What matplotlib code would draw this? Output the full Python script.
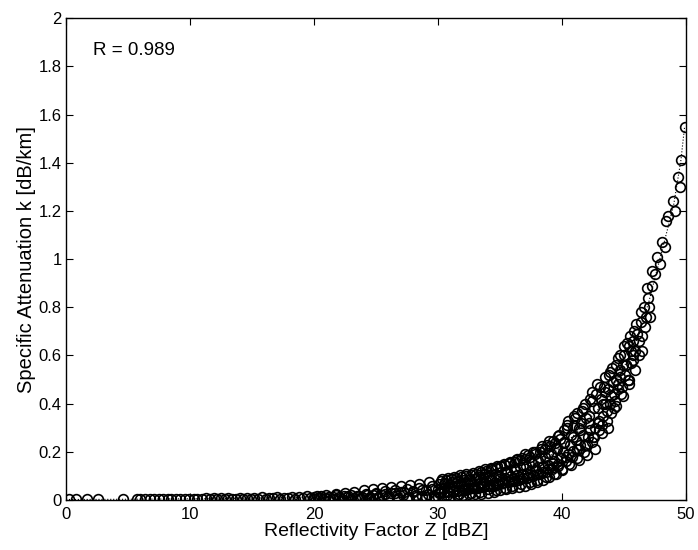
import numpy as np
import matplotlib
import matplotlib.pyplot as plt

matplotlib.use("agg")
plt.rcParams["font.family"] = ["Liberation Sans", "DejaVu Sans"]

# reflectivity factor Z [dBZ] and specific attenuation k [dB/km]
z_low = [0.2, 0.8, 1.7, 2.6, 4.6, 5.7, 6.0, 6.4, 6.8, 7.1, 7.5, 7.8, 8.2, 8.5, 8.9,
         9.2, 9.6, 9.9, 10.3, 10.6]
k_low = [0.003, 0.003, 0.003, 0.003, 0.003, 0.003, 0.004, 0.003, 0.004, 0.003, 0.004,
         0.005, 0.003, 0.004, 0.005, 0.004, 0.006, 0.004, 0.005, 0.006]

z_strip = [11.0, 11.3, 11.6, 11.9, 12.2, 12.5, 12.8, 13.1, 13.4, 13.7, 14.0, 14.3, 14.6,
           14.9, 15.2, 15.5, 15.8, 16.1, 16.4, 16.7, 17.0, 17.3, 17.6, 17.9, 18.2, 18.5,
           18.8, 19.1, 19.4, 19.7, 20.0, 20.3, 20.6, 20.9, 21.2, 21.5, 21.8, 22.1, 22.4,
           22.7, 23.0, 23.3, 23.6, 23.9, 24.2, 24.5, 24.8]
k_strip = [0.004, 0.007, 0.005, 0.008, 0.004, 0.007, 0.005, 0.009, 0.006, 0.004, 0.008,
           0.006, 0.010, 0.005, 0.008, 0.006, 0.011, 0.005, 0.009, 0.007, 0.012, 0.006,
           0.010, 0.008, 0.013, 0.006, 0.011, 0.009, 0.015, 0.007, 0.012, 0.010, 0.017,
           0.008, 0.014, 0.011, 0.019, 0.009, 0.016, 0.012, 0.022, 0.010, 0.018, 0.014,
           0.025, 0.011, 0.020]

z_mid = [25.0, 25.2, 25.5, 25.7, 26.0, 26.2, 26.5, 26.7, 27.0, 27.2, 27.5, 27.7, 28.0,
         28.2, 28.5, 28.7, 29.0, 29.2, 29.5, 29.7, 30.0, 30.2, 30.5, 30.7, 31.0, 31.2,
         31.5, 31.7, 32.0, 32.2, 32.5, 32.7]
k_mid = [0.030, 0.010, 0.022, 0.038, 0.012, 0.028, 0.040, 0.015, 0.032, 0.020, 0.045,
         0.012, 0.035, 0.022, 0.050, 0.015, 0.040, 0.027, 0.058, 0.018, 0.045, 0.030,
         0.065, 0.020, 0.052, 0.035, 0.075, 0.025, 0.060, 0.040, 0.085, 0.030]

z_rise = [33.0, 33.2, 33.4, 33.6, 33.8, 34.0, 34.2, 34.4, 34.5, 34.7, 34.9, 35.0,
          35.2, 35.4, 35.5, 35.7, 35.9, 36.0, 36.2, 36.4, 36.5, 36.7, 36.9, 37.0,
          37.2, 37.4, 37.5, 37.7, 37.9, 38.0, 38.2, 38.4, 38.5, 38.7, 38.9, 39.0,
          39.2, 39.4, 39.5, 39.7, 39.9, 40.0, 40.2, 40.4, 40.5, 40.7, 40.9, 41.0]
k_rise = [0.050, 0.095, 0.035, 0.070, 0.110, 0.045, 0.085, 0.125, 0.060, 0.040, 0.100,
          0.140, 0.070, 0.050, 0.115, 0.155, 0.085, 0.060, 0.130, 0.170, 0.095, 0.065,
          0.145, 0.190, 0.110, 0.075, 0.160, 0.200, 0.125, 0.085, 0.175, 0.225, 0.140,
          0.095, 0.195, 0.245, 0.155, 0.110, 0.215, 0.265, 0.175, 0.125, 0.235, 0.300,
          0.190, 0.145, 0.260, 0.350]

z_high = [41.2, 41.4, 41.5, 41.7, 41.9, 42.0, 42.2, 42.4, 42.5, 42.7, 42.9, 43.0,
          43.2, 43.4, 43.5, 43.7, 43.9, 44.0, 44.2, 44.4, 44.5, 44.7, 44.9, 45.0,
          45.2, 45.4, 45.5, 45.7, 45.9, 46.0, 46.2, 46.4, 46.5, 46.7, 46.9, 47.0,
          47.1, 47.3, 47.3, 47.5, 47.7, 47.9, 48.1, 48.3, 48.4, 48.6, 49.0, 49.1,
          49.4, 49.5, 49.6, 49.9]
k_high = [0.210, 0.165, 0.290, 0.380, 0.230, 0.185, 0.320, 0.450, 0.260, 0.210, 0.380,
          0.330, 0.280, 0.470, 0.400, 0.300, 0.530, 0.360, 0.440, 0.390, 0.590, 0.510,
          0.430, 0.640, 0.560, 0.480, 0.680, 0.600, 0.540, 0.730, 0.660, 0.780, 0.620,
          0.720, 0.880, 0.800, 0.760, 0.950, 0.890, 0.940, 1.010, 0.980, 1.070, 1.050,
          1.160, 1.180, 1.240, 1.200, 1.340, 1.300, 1.410, 1.550]

# extra points filling the dense part of the cloud
z_fill_a = [20.0, 20.25, 20.5, 20.75, 21.0, 21.25, 21.5, 21.75, 22.0, 22.25, 22.5, 22.75,
            23.0, 23.25, 23.5, 23.75, 24.0, 24.25, 24.5, 24.75, 25.0, 25.25, 25.5, 25.75,
            26.0, 26.25, 26.5, 26.75, 27.0, 27.25, 27.5, 27.75, 28.0, 28.25, 28.5, 28.75,
            29.0, 29.25, 29.5, 29.75]
k_fill_a = [0.004, 0.018, 0.010, 0.004, 0.022, 0.012, 0.005, 0.025, 0.014, 0.005, 0.030,
            0.016, 0.005, 0.034, 0.018, 0.006, 0.040, 0.020, 0.006, 0.044, 0.024, 0.007,
            0.048, 0.026, 0.008, 0.052, 0.030, 0.009, 0.058, 0.034, 0.010, 0.064, 0.038,
            0.011, 0.068, 0.042, 0.012, 0.075, 0.046, 0.014]

z_fill_b = [30.0, 30.1, 30.2, 30.3, 30.4, 30.5, 30.6, 30.7, 30.8, 30.9,
            31.0, 31.1, 31.2, 31.3, 31.4, 31.5, 31.6, 31.7, 31.8, 31.9,
            32.0, 32.1, 32.2, 32.3, 32.4, 32.5, 32.6, 32.7, 32.8, 32.9,
            33.0, 33.1, 33.2, 33.3, 33.4, 33.5, 33.6, 33.7, 33.8, 33.9,
            34.0, 34.1, 34.2, 34.3, 34.4, 34.5, 34.6, 34.7, 34.8, 34.9]
k_fill_b = [0.014, 0.065, 0.035, 0.088, 0.050, 0.016, 0.070, 0.038, 0.092, 0.054,
            0.017, 0.073, 0.040, 0.096, 0.057, 0.019, 0.077, 0.043, 0.102, 0.060,
            0.021, 0.082, 0.046, 0.108, 0.064, 0.023, 0.087, 0.050, 0.114, 0.068,
            0.025, 0.092, 0.053, 0.120, 0.072, 0.027, 0.097, 0.057, 0.127, 0.077,
            0.030, 0.102, 0.060, 0.134, 0.081, 0.033, 0.108, 0.064, 0.141, 0.086]

z_fill_c = [35.0, 35.1, 35.2, 35.3, 35.4, 35.5, 35.6, 35.7, 35.8, 35.9,
            36.0, 36.1, 36.2, 36.3, 36.4, 36.5, 36.6, 36.7, 36.8, 36.9,
            37.0, 37.1, 37.2, 37.3, 37.4, 37.5, 37.6, 37.7, 37.8, 37.9,
            38.0, 38.1, 38.2, 38.3, 38.4, 38.5, 38.6, 38.7, 38.8, 38.9,
            39.0, 39.1, 39.2, 39.3, 39.4, 39.5, 39.6, 39.7, 39.8, 39.9]
k_fill_c = [0.040, 0.115, 0.070, 0.150, 0.092, 0.044, 0.121, 0.075, 0.158, 0.098,
            0.050, 0.128, 0.080, 0.166, 0.104, 0.055, 0.135, 0.086, 0.176, 0.110,
            0.060, 0.143, 0.092, 0.186, 0.117, 0.066, 0.152, 0.099, 0.198, 0.125,
            0.075, 0.163, 0.107, 0.212, 0.135, 0.085, 0.177, 0.117, 0.228, 0.147,
            0.097, 0.192, 0.128, 0.246, 0.160, 0.108, 0.210, 0.140, 0.268, 0.175]

z_fill_d = [40.0, 40.15, 40.3, 40.45, 40.6, 40.75, 40.9, 41.05, 41.2, 41.35,
            41.5, 41.65, 41.8, 41.95, 42.1, 42.25, 42.4, 42.55, 42.7, 42.85,
            43.0, 43.15, 43.3, 43.45, 43.6, 43.75, 43.9, 44.05, 44.2, 44.35,
            44.5, 44.65, 44.8, 44.95, 45.1, 45.25, 45.4, 45.55, 45.7, 45.85]
k_fill_d = [0.130, 0.240, 0.180, 0.310, 0.150, 0.270, 0.205, 0.340, 0.175, 0.300,
            0.230, 0.370, 0.200, 0.340, 0.260, 0.420, 0.240, 0.380, 0.300, 0.480,
            0.290, 0.420, 0.350, 0.510, 0.330, 0.460, 0.400, 0.550, 0.380, 0.500,
            0.460, 0.600, 0.440, 0.560, 0.520, 0.650, 0.500, 0.620, 0.580, 0.700]

z_fill_e = [30.05, 30.25, 30.45, 30.65, 30.85, 31.05, 31.25, 31.45, 31.65, 31.85,
            32.05, 32.25, 32.45, 32.65, 32.85, 33.05, 33.25, 33.45, 33.65, 33.85,
            34.05, 34.25, 34.45, 34.65, 34.85, 35.05, 35.25, 35.45, 35.65, 35.85,
            36.05, 36.25, 36.45, 36.65, 36.85, 37.05, 37.25, 37.45, 37.65, 37.85,
            38.05, 38.25, 38.45, 38.65, 38.85, 39.05, 39.25, 39.45, 39.65, 39.85]
k_fill_e = [0.030, 0.078, 0.032, 0.082, 0.034, 0.086, 0.036, 0.090, 0.039, 0.095,
            0.042, 0.100, 0.045, 0.105, 0.048, 0.110, 0.051, 0.116, 0.055, 0.122,
            0.058, 0.128, 0.062, 0.134, 0.066, 0.140, 0.070, 0.146, 0.075, 0.152,
            0.080, 0.158, 0.085, 0.165, 0.090, 0.172, 0.096, 0.180, 0.102, 0.190,
            0.110, 0.200, 0.118, 0.212, 0.127, 0.225, 0.137, 0.238, 0.148, 0.252]

z_fill_f = [40.05, 40.2, 40.35, 40.5, 40.65, 40.8, 40.95, 41.1, 41.25, 41.4,
            41.55, 41.7, 41.85, 42.0, 42.15, 42.3, 42.45, 42.6, 42.75, 42.9,
            43.05, 43.2, 43.35, 43.5, 43.65, 43.8, 43.95, 44.1, 44.25, 44.4,
            44.55, 44.7, 44.85, 45.0, 45.15, 45.3, 45.45, 45.6, 45.75, 45.9,
            46.05, 46.2, 46.35, 46.5, 46.65, 46.8, 46.95]
k_fill_f = [0.200, 0.290, 0.160, 0.330, 0.230, 0.180, 0.310, 0.250, 0.360, 0.210,
            0.320, 0.270, 0.400, 0.230, 0.350, 0.290, 0.410, 0.260, 0.440, 0.320,
            0.470, 0.310, 0.400, 0.450, 0.370, 0.520, 0.430, 0.490, 0.410, 0.560,
            0.480, 0.540, 0.470, 0.600, 0.560, 0.500, 0.640, 0.570, 0.660, 0.620,
            0.690, 0.600, 0.740, 0.680, 0.800, 0.760, 0.840]

# dotted guide line through the cloud
z_line = [0, 5, 10, 15, 20, 25, 30, 33, 35, 37, 39, 41, 43, 45, 46, 47, 48, 49, 49.6, 49.9]
k_line = [0.002, 0.003, 0.005, 0.008, 0.012, 0.02, 0.04, 0.06, 0.09, 0.13, 0.18, 0.27,
          0.38, 0.55, 0.66, 0.82, 1.02, 1.22, 1.41, 1.55]

z_all = np.concatenate([z_low, z_strip, z_mid, z_rise, z_high,
                        z_fill_a, z_fill_b, z_fill_c, z_fill_d, z_fill_e, z_fill_f])
k_all = np.concatenate([k_low, k_strip, k_mid, k_rise, k_high,
                        k_fill_a, k_fill_b, k_fill_c, k_fill_d, k_fill_e, k_fill_f])

fig = plt.figure(figsize=(6.98, 5.5), dpi=100)
ax = fig.add_axes([0.0946, 0.0909, 0.888, 0.876])

ax.plot(z_line, k_line, color="black", linestyle=":", linewidth=0.8)
ax.plot(z_all, k_all, linestyle="none", marker="o", markersize=7,
        markerfacecolor="none", markeredgecolor="black", markeredgewidth=1.2)

ax.set_xlim(0, 50)
ax.set_ylim(0, 2)
ax.set_xticks(np.arange(0, 51, 10))
ax.set_yticks(np.arange(0, 2.01, 0.2))
ax.set_yticklabels(["0", "0.2", "0.4", "0.6", "0.8", "1", "1.2", "1.4", "1.6", "1.8", "2"])
ax.tick_params(direction="in", top=True, right=True, length=5, width=0.8,
               labelsize=12)
ax.tick_params(axis="y", pad=3)
ax.tick_params(axis="x", pad=5)
for s in ax.spines.values():
    s.set_linewidth(1.0)

ax.set_xlabel("Reflectivity Factor Z [dBZ]", fontsize=14, labelpad=1)
ax.set_ylabel("Specific Attenuation k [dB/km]", fontsize=14.5, labelpad=2)
ax.text(2.2, 1.867, "R = 0.989", fontsize=13.5, va="center", ha="left")

fig.savefig("out.png", dpi=100)
